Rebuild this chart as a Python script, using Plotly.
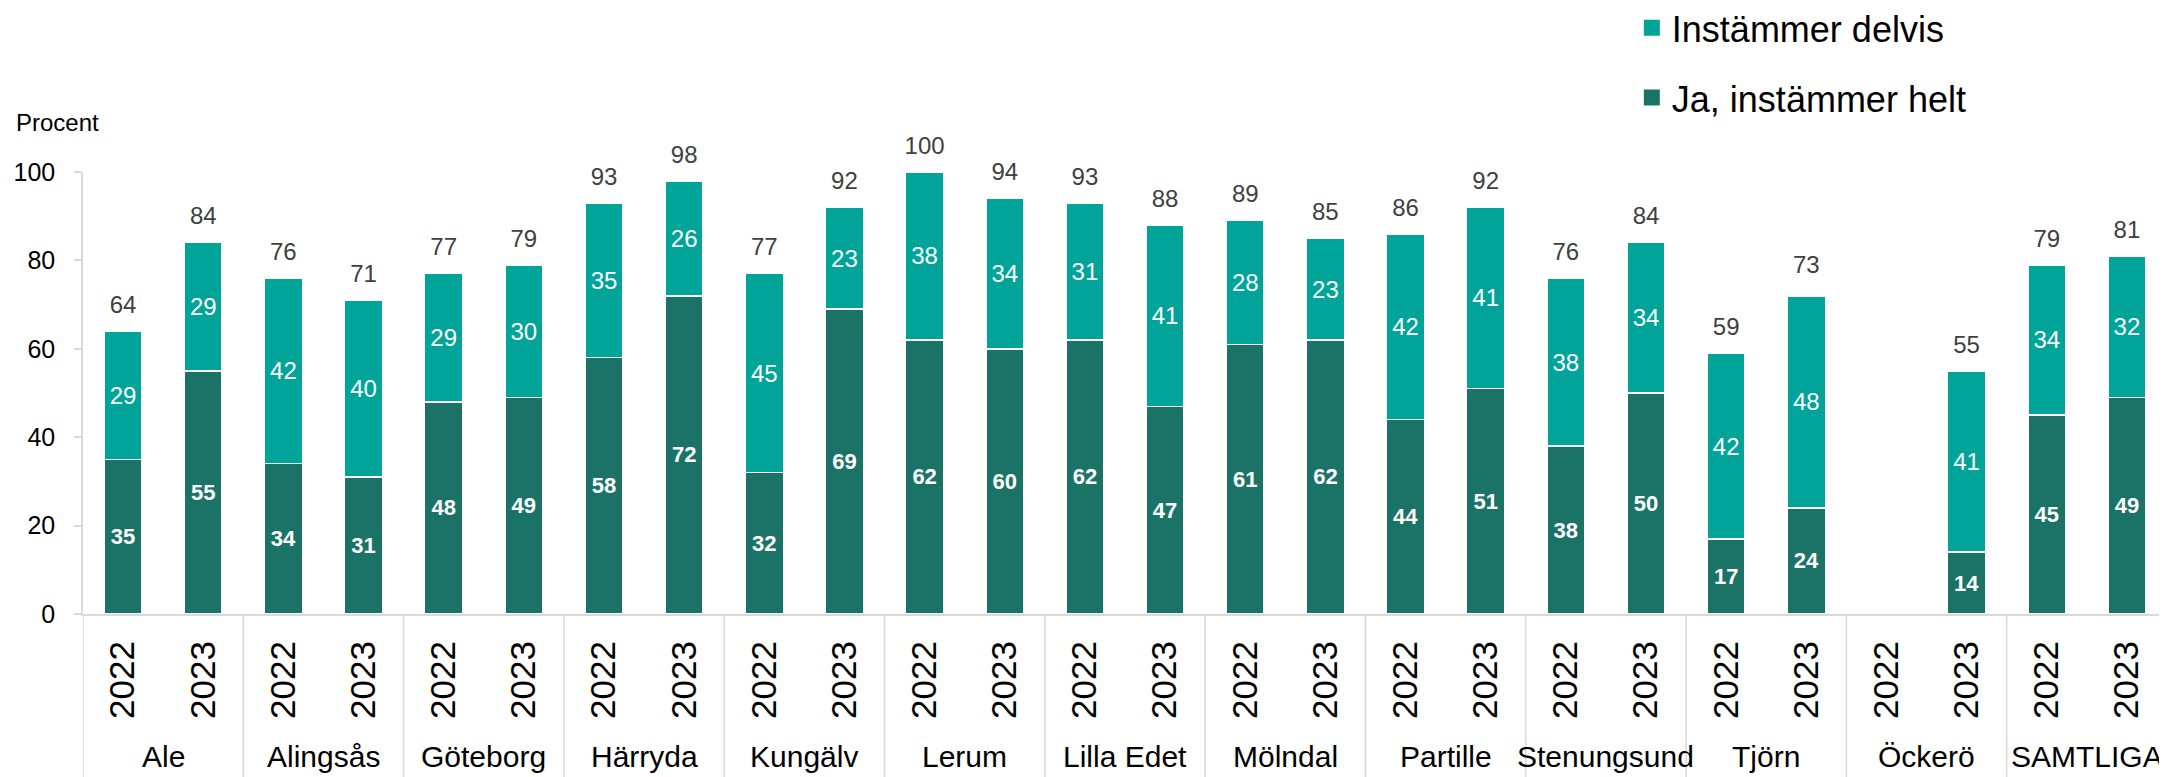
import plotly.graph_objects as go

kommuner = ["Ale", "Alingsås", "Göteborg", "Härryda", "Kungälv", "Lerum", "Lilla Edet",
            "Mölndal", "Partille", "Stenungsund", "Tjörn", "Öckerö", "SAMTLIGA"]
years = ["2022", "2023"]
helt_2022 = [35, 34, 48, 58, 32, 62, 62, 61, 44, 38, 17, None, 45]
helt_2023 = [55, 31, 49, 72, 69, 60, 47, 62, 51, 50, 24, 14, 49]
delvis_2022 = [29, 42, 29, 35, 45, 38, 31, 28, 42, 38, 42, None, 34]
delvis_2023 = [29, 40, 30, 26, 23, 34, 41, 23, 41, 34, 48, 41, 32]
total_2022 = [64, 76, 77, 93, 77, 100, 93, 89, 86, 76, 59, None, 79]
total_2023 = [84, 71, 79, 98, 92, 94, 88, 85, 92, 84, 73, 55, 81]
y_ticks = [0, 20, 40, 60, 80, 100]

LIGHT = "#00A499"
DARK = "#1B7367"
GRID = "#D9D9D9"
FONT = "Liberation Sans"

cats, ylab, helt, delvis, total = [], [], [], [], []
for i, k in enumerate(kommuner):
    for y, h, d, t in ((years[0], helt_2022[i], delvis_2022[i], total_2022[i]),
                       (years[1], helt_2023[i], delvis_2023[i], total_2023[i])):
        cats.append(f"{k}|{y}")
        ylab.append(y)
        helt.append(h)
        delvis.append(d)
        total.append(t)
n = len(cats)


def lab(vals):
    return ["" if v is None else str(v) for v in vals]


fig = go.Figure()
fig.add_trace(go.Bar(
    x=cats, y=helt, name="Ja, instämmer helt", showlegend=False,
    marker=dict(color=DARK, line=dict(color="white", width=1.5)),
    text=lab(helt), textposition="inside", insidetextanchor="middle",
    textangle=0, constraintext="none",
    textfont=dict(family=FONT, size=22, color="white", weight="bold"),
    hoverinfo="skip",
))
fig.add_trace(go.Bar(
    x=cats, y=delvis, name="Instämmer delvis", showlegend=False,
    marker=dict(color=LIGHT, line=dict(color="white", width=1.5)),
    text=lab(delvis), textposition="inside", insidetextanchor="middle",
    textangle=0, constraintext="none",
    textfont=dict(family=FONT, size=24, color="white"),
    hoverinfo="skip",
))
fig.add_trace(go.Scatter(
    x=cats, y=total, mode="markers+text", text=lab(total),
    textposition="top center",
    marker=dict(size=18, color="rgba(0,0,0,0)"),
    textfont=dict(family=FONT, size=24, color="#404040"),
    showlegend=False, cliponaxis=False, hoverinfo="skip",
))
# legend entries (square swatches)
for name, col, grp in (("Instämmer delvis", LIGHT, "b"), ("Ja, instämmer helt", DARK, "a")):
    fig.add_trace(go.Scatter(
        x=[None], y=[None], mode="markers", name=name, legendgroup=grp,
        marker=dict(symbol="square", size=19, color=col),
        showlegend=True, hoverinfo="skip",
    ))

# group labels and dividers
for i, k in enumerate(kommuner):
    fig.add_annotation(
        text=k, x=2 * i + 0.5, xref="x", y=-0.3235, yref="paper",
        xanchor="center", yanchor="middle", showarrow=False,
        font=dict(family=FONT, size=30, color="black"),
    )
for i in range(len(kommuner) + 1):
    fig.add_shape(
        type="line", xref="x", yref="paper", x0=2 * i - 0.5, x1=2 * i - 0.5,
        y0=0, y1=-0.38, line=dict(color=GRID, width=1.5),
    )

fig.add_annotation(
    text="Procent", xref="paper", yref="paper", x=-0.033, y=1.111,
    xanchor="left", yanchor="middle", showarrow=False,
    font=dict(family=FONT, size=24, color="black"),
)

# page body has an 8px margin: shrink the figure and shift margins to compensate
fig.update_layout(
    width=2159, height=769,
    margin=dict(l=75, r=0, t=164, b=163, autoexpand=False),
    barmode="stack", bargap=0.526,
    plot_bgcolor="white", paper_bgcolor="white",
    font=dict(family=FONT, color="black"),
    legend=dict(
        x=0.7432, y=1.394, xanchor="left", yanchor="top",
        traceorder="grouped", tracegroupgap=20, itemsizing="trace",
        font=dict(family=FONT, size=36, color="black"),
        bgcolor="rgba(0,0,0,0)",
    ),
    xaxis=dict(
        type="category", range=[-0.5, n - 0.5],
        tickmode="array", tickvals=cats, ticktext=ylab,
        showline=True, linecolor=GRID, linewidth=2,
        tickangle=-90, tickfont=dict(family=FONT, size=35, color="black"),
        ticklabelstandoff=11, automargin=False,
        showgrid=False, ticks="",
    ),
    yaxis=dict(
        range=[0, 100], tickvals=y_ticks, showgrid=False,
        showline=True, linecolor=GRID, linewidth=1.5,
        ticks="outside", ticklen=7, tickcolor=GRID, tickwidth=1.5,
        ticklabelstandoff=14, automargin=False,
        tickfont=dict(family=FONT, size=25, color="black"),
        zeroline=False,
    ),
)

fig.write_html("out.html")
